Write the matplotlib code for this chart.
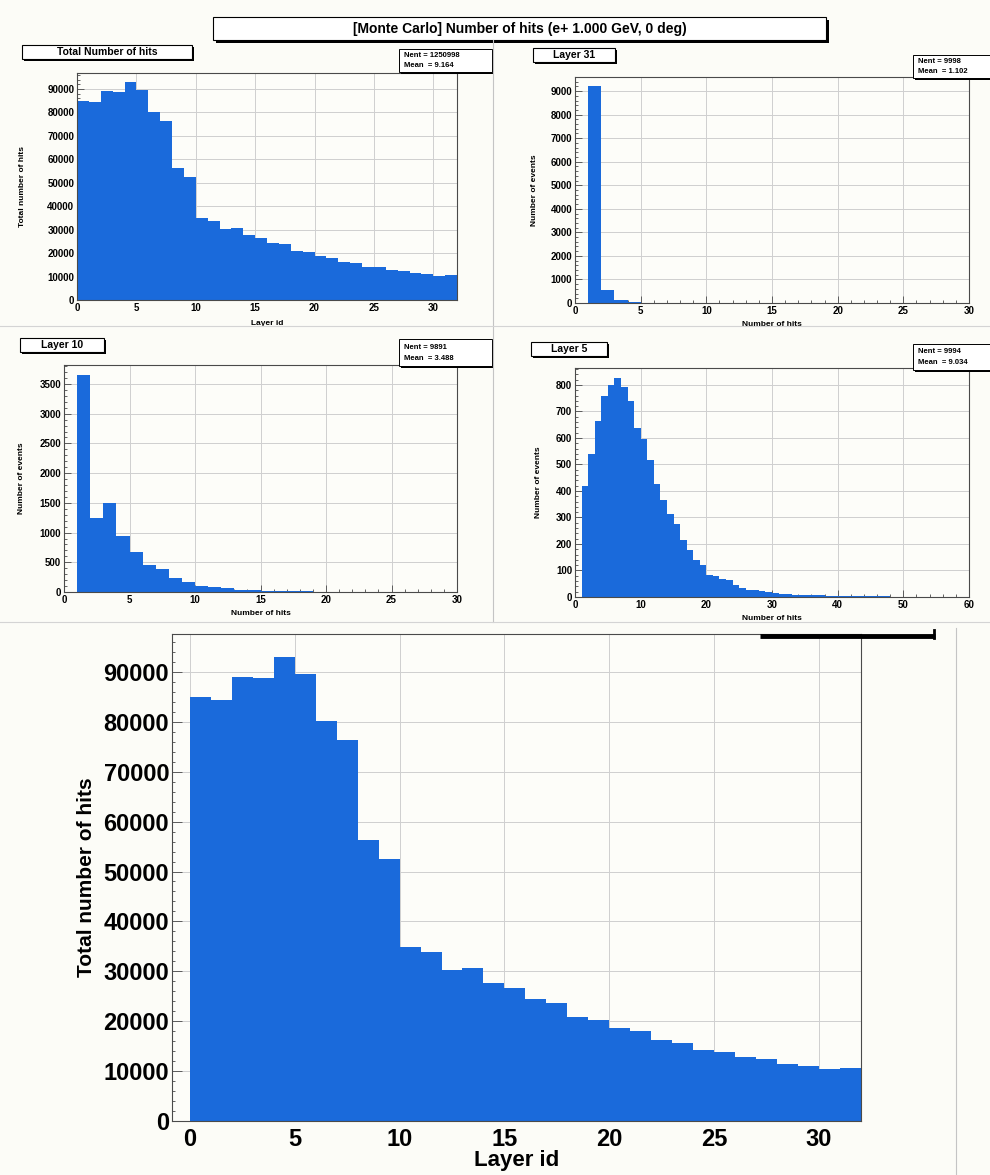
import numpy as np
import matplotlib
matplotlib.use("Agg")
import matplotlib.pyplot as plt
from matplotlib.patches import Rectangle
from matplotlib.lines import Line2D
from matplotlib.ticker import MultipleLocator, AutoMinorLocator

plt.rcParams["font.family"] = ["Liberation Sans", "DejaVu Sans"]
plt.rcParams["font.weight"] = "bold"

layer_ids = list(range(32))
total_hits = [84900, 84300, 89000, 88700, 93000, 89500, 80100, 76300,
              56400, 52500, 34800, 33900, 30300, 30600, 27700, 26600,
              24400, 23700, 20800, 20300, 18600, 18100, 16200, 15600,
              14200, 13900, 12800, 12400, 11400, 11000, 10400, 10600]

hits_30 = list(range(30))
layer31_events = [0, 9210, 564, 141, 56, 20, 8, 4, 2, 1,
                  1, 0, 0, 0, 0, 0, 0, 0, 0, 0,
                  0, 0, 0, 0, 0, 0, 0, 0, 0, 0]
layer10_events = [0, 3660, 1245, 1500, 938, 674, 455, 387, 236, 163,
                  107, 84, 67, 40, 30, 22, 18, 13, 10, 8,
                  6, 5, 4, 3, 2, 2, 1, 1, 1, 0]

hits_60 = list(range(60))
layer5_events = [0, 418, 541, 664, 758, 800, 825, 793, 739, 636,
                 598, 516, 428, 365, 312, 277, 214, 176, 141, 120,
                 84, 78, 69, 63, 44, 35, 28, 25, 23, 18,
                 15, 13, 11, 9, 8, 8, 7, 6, 5, 5,
                 4, 4, 3, 3, 2, 2, 2, 2, 1, 1,
                 1, 1, 1, 1, 1, 0, 0, 0, 0, 0]

MAIN_TITLE = "[Monte Carlo] Number of hits (e+ 1.000 GeV, 0 deg)"

# ---- style ----
W, H = 990, 1175
BG = "#fcfcf7"
BLUE = "#1a6adb"
GRID = "#cfcfcf"
FRAME = "#4a4a4a"

fig = plt.figure(figsize=(W / 100, H / 100), dpi=100)
fig.patch.set_facecolor(BG)


def px_axes(l, t, r, b):
    return fig.add_axes([l / W, 1 - b / H, (r - l) / W, (b - t) / H])


def fig_line(x0, y0, x1, y1, **kw):
    fig.add_artist(Line2D([x0 / W, x1 / W], [1 - y0 / H, 1 - y1 / H],
                          transform=fig.transFigure, **kw))


def title_box(l, t, r, b, text, size, shadow=3):
    # ROOT style pave with black drop shadow
    fig.add_artist(Rectangle(((l + shadow) / W, 1 - (b + shadow) / H), (r - l) / W, (b - t) / H,
                             transform=fig.transFigure, facecolor="black", edgecolor="none"))
    fig.add_artist(Rectangle((l / W, 1 - b / H), (r - l) / W, (b - t) / H,
                             transform=fig.transFigure, facecolor="white",
                             edgecolor="black", linewidth=0.8))
    fig.text((l + r) / 2 / W, 1 - (t + b) / 2 / H, text, ha="center", va="center",
             fontsize=size, fontweight="bold")


def stat_box(l, t, r, b, nent, mean):
    fig.add_artist(Rectangle(((l + 2) / W, 1 - (b + 2) / H), (r - l) / W, (b - t) / H,
                             transform=fig.transFigure, facecolor="black", edgecolor="none"))
    fig.add_artist(Rectangle((l / W, 1 - b / H), (r - l) / W, (b - t) / H,
                             transform=fig.transFigure, facecolor="white",
                             edgecolor="black", linewidth=0.7))
    h = b - t
    fig.text((l + 5) / W, 1 - (t + h * 0.3) / H, f"Nent = {nent}", ha="left", va="center",
             fontsize=5.5, fontweight="bold")
    fig.text((l + 5) / W, 1 - (t + h * 0.72) / H, f"Mean  = {mean}", ha="left", va="center",
             fontsize=5.5, fontweight="bold")


def style_hist(ax, xs, ys, xlim, ylim, xstep, ystep, xlabel, ylabel,
               tick_size, label_size, ylab_x, xlab_y):
    ax.set_facecolor("#fdfdf9")
    ax.set_axisbelow(True)
    ax.bar(xs, ys, width=1.0, align="edge", color=BLUE, linewidth=0, zorder=2)
    ax.set_xlim(*xlim)
    ax.set_ylim(*ylim)
    ax.xaxis.set_major_locator(MultipleLocator(xstep))
    ax.yaxis.set_major_locator(MultipleLocator(ystep))
    ax.xaxis.set_minor_locator(AutoMinorLocator(5))
    ax.yaxis.set_minor_locator(AutoMinorLocator(5))
    ax.grid(True, which="major", color=GRID, linewidth=0.7)
    ax.tick_params(which="both", direction="in", labelsize=tick_size, pad=2,
                   color=FRAME, width=0.6)
    ax.tick_params(which="major", length=5)
    ax.tick_params(which="minor", length=2.5)
    for lab in ax.get_xticklabels() + ax.get_yticklabels():
        lab.set_fontweight("bold")
    for sp in ax.spines.values():
        sp.set_color(FRAME)
        sp.set_linewidth(0.8)
        sp.set_zorder(3)
    ax.set_xlabel(xlabel, fontsize=label_size, fontweight="bold", labelpad=0)
    ax.xaxis.set_label_coords(0.5, xlab_y)
    ax.set_ylabel(ylabel, fontsize=label_size, fontweight="bold", labelpad=0)
    ax.yaxis.set_label_coords(ylab_x, 0.5)


# ---- pad separators ----
fig_line(493, 40, 493, 622, color="#c4c4c4", lw=0.8)
fig_line(0, 326, 990, 326, color="#d4d4d4", lw=0.8)
fig_line(0, 622, 990, 622, color="#d4d4d4", lw=0.8)
fig_line(956, 628, 956, 1175, color="#c4c4c4", lw=0.8)

# ---- top-left: total ----
ax1 = px_axes(77, 73, 457, 300)
style_hist(ax1, layer_ids, total_hits, (0, 32), (0, 96800), 5, 10000,
           "Layer id", "Total number of hits", 7, 6, -0.135, -0.09)

# ---- top-right: layer 31 ----
ax2 = px_axes(575, 77, 969, 303)
style_hist(ax2, hits_30, layer31_events, (0, 30), (0, 9600), 5, 1000,
           "Number of hits", "Number of events", 7, 6, -0.095, -0.08)

# ---- middle-left: layer 10 ----
ax3 = px_axes(64, 365, 457, 592)
style_hist(ax3, hits_30, layer10_events, (0, 30), (0, 3820), 5, 500,
           "Number of hits", "Number of events", 7, 6, -0.1, -0.08)

# ---- middle-right: layer 5 ----
ax4 = px_axes(575, 368, 969, 597)
style_hist(ax4, hits_60, layer5_events, (0, 60), (0, 864), 10, 100,
           "Number of hits", "Number of events", 7, 6, -0.085, -0.08)

# ---- bottom: enlarged total ----
ax5 = px_axes(172, 634, 861, 1121)
style_hist(ax5, layer_ids, total_hits, (-0.85, 32), (0, 97600), 5, 10000,
           "Layer id", "Total number of hits", 17, 15, -0.11, -0.06)
ax5.tick_params(which="major", length=7)
ax5.tick_params(axis="x", pad=5)
ax5.xaxis.label.set_fontsize(16)

# ---- title / stat paves ----
title_box(213, 17, 826, 40, MAIN_TITLE, 10, shadow=3)
title_box(22, 45, 192, 59, "Total Number of hits", 7.5, shadow=2)
title_box(533, 48, 615, 62, "Layer 31", 7.5, shadow=2)
title_box(20, 338, 104, 352, "Layer 10", 7.5, shadow=2)
title_box(531, 342, 607, 356, "Layer 5", 7.5, shadow=2)

stat_box(399, 49, 492, 72, "1250998", "9.164")
stat_box(913, 55, 992, 78, "9998", "1.102")
stat_box(399, 339, 492, 366, "9891", "3.488")
stat_box(913, 344, 992, 370, "9994", "9.034")

# cut-off pave shadow above the enlarged plot
fig_line(760, 636, 935, 636, color="black", lw=3.5, solid_capstyle="butt")
fig_line(934, 630, 934, 638, color="black", lw=2)

fig.savefig("out.png", dpi=100, facecolor=BG)
